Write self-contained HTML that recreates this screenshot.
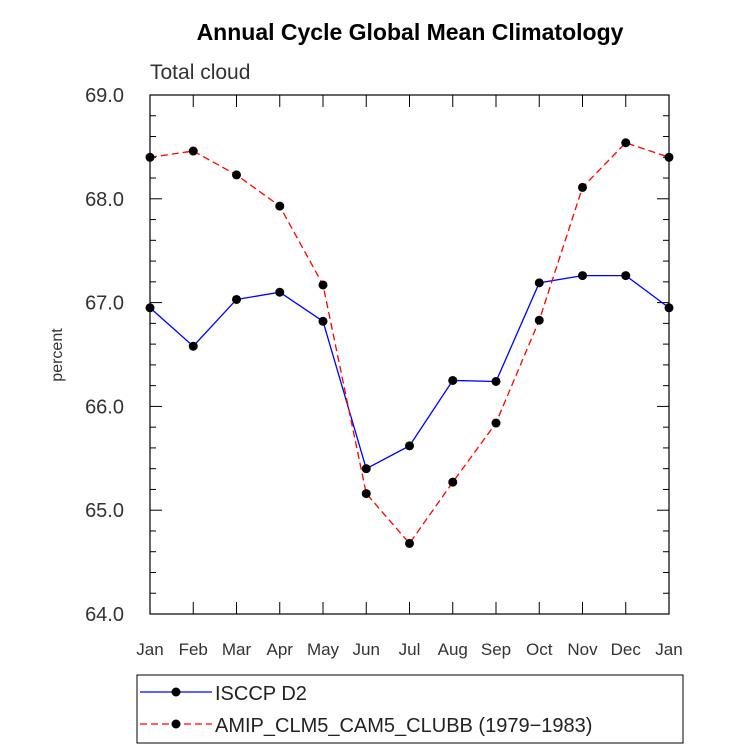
<!DOCTYPE html>
<html><head><meta charset="utf-8"><style>
html,body{margin:0;padding:0;background:#fff;}
svg text{font-family:"Liberation Sans",sans-serif;}
</style></head><body>
<svg id="chart" width="733" height="751" viewBox="0 0 733 751" xmlns="http://www.w3.org/2000/svg">
<text x="410" y="40" text-anchor="middle" font-size="23" font-weight="bold">Annual Cycle Global Mean Climatology</text>
<text x="150" y="79" font-size="21" fill="#333">Total cloud</text>
<text transform="translate(62,355) rotate(-90)" text-anchor="middle" font-size="16" fill="#333">percent</text>
<rect x="150" y="95" width="519" height="519" fill="none" stroke="#000" stroke-width="1.2"/>
<g id="axes"></g>
<g id="series"></g>
<g>
<rect x="137" y="675" width="546" height="68" fill="none" stroke="#000" stroke-width="1"/>
<line x1="140" y1="692" x2="212" y2="692" stroke="#0000ff" stroke-width="1.3"/>
<circle cx="176" cy="692" r="4.5" fill="#000"/>
<text x="215" y="700" font-size="20" fill="#222">ISCCP D2</text>
<line x1="140" y1="724" x2="212" y2="724" stroke="#ff0000" stroke-width="1.3" stroke-dasharray="7,4"/>
<circle cx="176" cy="724" r="4.5" fill="#000"/>
<text x="215" y="732" font-size="20" fill="#222">AMIP_CLM5_CAM5_CLUBB (1979−1983)</text>
</g>
</svg>
<script>
const months=["Jan","Feb","Mar","Apr","May","Jun","Jul","Aug","Sep","Oct","Nov","Dec","Jan"];
const isccp=[66.95,66.58,67.03,67.10,66.82,65.40,65.62,66.25,66.24,67.19,67.26,67.26,66.95];
const amip=[68.40,68.46,68.23,67.93,67.17,65.16,64.68,65.27,65.84,66.83,68.11,68.54,68.40];
const yTicks=["64.0","65.0","66.0","67.0","68.0","69.0"];
const NS="http://www.w3.org/2000/svg";
const X0=150,X1=669,Y0=614,Y1=95,YMIN=64,YMAX=69;
function xs(i){return X0+(X1-X0)*i/(months.length-1);}
function ys(v){return Y0-(v-YMIN)/(YMAX-YMIN)*(Y0-Y1);}
function mk(tag,attrs,parent){const e=document.createElementNS(NS,tag);for(const k in attrs)e.setAttribute(k,attrs[k]);parent.appendChild(e);return e;}
const ax=document.getElementById('axes');
months.forEach((m,i)=>{
  const x=xs(i);
  const t1=mk('line',{x1:x,y1:Y0,x2:x,y2:Y0-12,stroke:'#000'},ax);
  
  
  const t2=mk('line',{x1:x,y1:Y1,x2:x,y2:Y1+12,stroke:'#000'},ax);
  
  
  const l=mk('text',{x:x,y:655,'text-anchor':'middle','font-size':'17',fill:'#333'},ax);
  l.textContent=m;
  
  
});
yTicks.forEach((t)=>{
  const v=parseFloat(t),y=ys(v);
  [[X0,X0+12],[X1,X1-12]].forEach(p=>{
    const tk=mk('line',{x1:p[0],y1:y,x2:p[1],y2:y,stroke:'#000'},ax);
    
    
  });
  const l=mk('text',{x:124,y:y+7,'text-anchor':'end','font-size':'20',fill:'#333'},ax);
  l.textContent=t;
  
  
  if(v<YMAX){for(let k=1;k<5;k++){const yy=ys(v+k*0.2);
    [[X0,X0+6],[X1,X1-6]].forEach(p=>{
      const mt=mk('line',{x1:p[0],y1:yy,x2:p[1],y2:yy,stroke:'#000'},ax);
      
      
    });}}
});
const sg=document.getElementById('series');
function drawSeries(vals,color,dash,name){
  const pts=vals.map((v,i)=>xs(i)+','+ys(v)).join(' ');
  const pl=mk('polyline',{points:pts,fill:'none',stroke:color,'stroke-width':'1.3'},sg);
  if(dash)pl.setAttribute('stroke-dasharray',dash);
  
  
  vals.forEach((v,i)=>{
    const c=mk('circle',{cx:xs(i),cy:ys(v),r:4.5,fill:'#000'},sg);
    
    
  });
}
drawSeries(isccp,'#0000ff',null,'isccp');
drawSeries(amip,'#ff0000','7,4','amip');
</script>
</body></html>
